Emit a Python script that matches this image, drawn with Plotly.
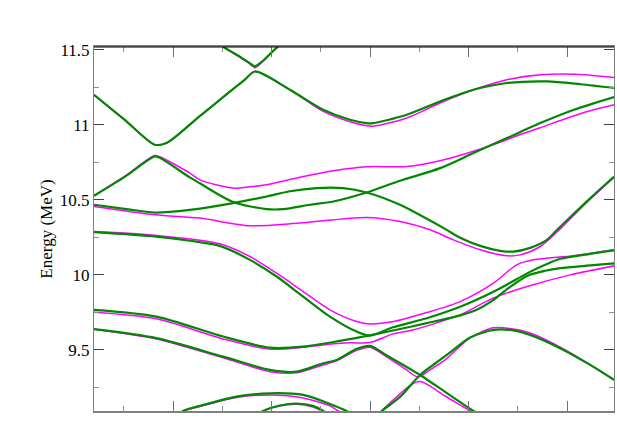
import plotly.graph_objects as go

# ---- data (x: wave-vector path coordinate, y: Energy in MeV) ----
# Band 1 (top, mostly out of view)
b1_x = [1.074, 1.305, 1.481, 1.582, 1.633, 1.704, 1.870, 2.040]
b1_green = [11.633, 11.522, 11.453, 11.41, 11.39, 11.42, 11.522, 11.60]
b1_mag = [11.633, 11.522, 11.45, 11.405, 11.38, 11.415, 11.522, 11.60]

# Band 2
b2g_x = [0, 0.312, 0.617, 0.736, 1.074, 1.379, 1.532, 1.633, 1.989, 2.327, 2.599, 2.768, 2.835,
         3.175, 3.513, 3.852, 4.191, 4.598, 4.940, 5.28]
b2g_y = [11.20, 11.033, 10.867, 10.878, 11.058, 11.22, 11.301, 11.355, 11.233, 11.10, 11.033, 11.011, 11.011,
         11.067, 11.155, 11.233, 11.278, 11.289, 11.27, 11.245]
b2m_x = [0, 0.312, 0.617, 0.736, 1.074, 1.379, 1.532, 1.633, 1.989, 2.327, 2.599, 2.768, 2.835,
         3.175, 3.513, 3.852, 4.191, 4.530, 4.889, 5.28]
b2m_y = [11.20, 11.033, 10.867, 10.878, 11.058, 11.22, 11.301, 11.355, 11.233, 11.089, 11.02, 10.993, 10.99,
         11.045, 11.145, 11.233, 11.30, 11.333, 11.337, 11.315]

# Band 3
b3g_x = [0, 0.312, 0.617, 0.668, 0.973, 1.074, 1.413, 1.752, 1.921, 2.192, 2.429, 2.768, 3.107,
         3.513, 3.852, 4.191, 4.530, 4.872, 5.28]
b3g_y = [10.527, 10.653, 10.789, 10.78, 10.649, 10.61, 10.485, 10.438, 10.438, 10.467, 10.489, 10.549, 10.627,
         10.711, 10.811, 10.911, 11.011, 11.10, 11.185]
b3m_x = [0, 0.312, 0.617, 0.668, 0.973, 1.074, 1.413, 1.582, 1.752, 2.090, 2.429, 2.768, 3.175,
         3.513, 3.852, 4.191, 4.296, 4.530, 4.807, 5.038, 5.28]
b3m_y = [10.527, 10.657, 10.795, 10.787, 10.678, 10.633, 10.578, 10.587, 10.60, 10.65, 10.693, 10.72, 10.722,
         10.76, 10.823, 10.90, 10.927, 10.98, 11.045, 11.093, 11.133]

# Band 4
b4g_x = [0, 0.312, 0.617, 0.973, 1.413, 1.752, 1.989, 2.260, 2.530, 2.768, 3.107, 3.341, 3.581,
         3.717, 3.920, 4.123, 4.258, 4.428, 4.598, 4.702, 4.987, 5.28]
b4g_y = [10.467, 10.44, 10.415, 10.433, 10.478, 10.522, 10.557, 10.578, 10.578, 10.549, 10.467, 10.387, 10.30,
         10.247, 10.193, 10.16, 10.155, 10.18, 10.233, 10.30, 10.48, 10.655]
b4m_x = [0, 0.617, 1.074, 1.582, 2.090, 2.768, 3.107, 3.412, 3.648, 3.920, 4.191, 4.326, 4.530,
         4.702, 4.987, 5.28]
b4m_y = [10.455, 10.40, 10.378, 10.327, 10.345, 10.382, 10.355, 10.30, 10.233, 10.167, 10.127, 10.133, 10.189,
         10.287, 10.473, 10.65]

# Band 5
b5g_x = [0, 0.634, 0.973, 1.277, 1.582, 1.854, 2.124, 2.395, 2.667, 2.802, 3.036, 3.378, 3.717,
         4.055, 4.225, 4.397, 4.580, 4.735, 5.038, 5.28]
b5g_y = [10.285, 10.255, 10.227, 10.193, 10.10, 9.989, 9.855, 9.722, 9.622, 9.597, 9.651, 9.711, 9.787,
         9.887, 9.947, 10.01, 10.067, 10.107, 10.14, 10.163]
b5m_x = [0, 0.634, 1.277, 1.582, 1.854, 2.124, 2.395, 2.667, 2.802, 3.040, 3.378, 3.717, 4.055,
         4.292, 4.462, 4.872, 5.28]
b5m_y = [10.289, 10.263, 10.207, 10.122, 10.011, 9.889, 9.767, 9.689, 9.673, 9.689, 9.749, 9.822, 9.945,
         10.067, 10.10, 10.127, 10.167]

# Band 6
b6g_x = [0, 0.634, 1.311, 1.786, 2.124, 2.497, 2.802, 3.036, 3.378, 3.717, 3.886, 4.055, 4.225,
         4.397, 4.580, 4.735, 5.038, 5.28]
b6g_y = [9.767, 9.722, 9.589, 9.515, 9.522, 9.56, 9.597, 9.629, 9.678, 9.73, 9.767, 9.833, 9.92,
         9.993, 10.027, 10.045, 10.063, 10.077]
b6m_x = [0, 0.634, 1.311, 1.786, 2.124, 2.327, 2.599, 2.802, 3.036, 3.239, 3.513, 3.717, 4.052,
         4.397, 4.834, 5.28]
b6m_y = [9.751, 9.707, 9.573, 9.505, 9.517, 9.533, 9.547, 9.549, 9.607, 9.633, 9.687, 9.733, 9.845,
         9.922, 10.00, 10.06]

# Band 7
b7g_x = [0, 0.634, 1.311, 1.786, 2.057, 2.327, 2.463, 2.667, 2.802, 2.972, 3.310, 3.564, 3.852, 4.021]
b7g_y = [9.638, 9.578, 9.455, 9.367, 9.355, 9.411, 9.433, 9.507, 9.527, 9.463, 9.333, 9.22, 9.093, 9.027]
b7m_x = [0, 0.634, 1.311, 1.786, 2.057, 2.327, 2.463, 2.667, 2.802, 2.972, 3.158, 3.290, 3.412,
         3.564, 3.818, 4.052, 4.225, 4.428, 4.766, 5.28]
b7m_y = [9.638, 9.573, 9.447, 9.355, 9.347, 9.40, 9.427, 9.497, 9.518, 9.453, 9.373, 9.32, 9.367,
         9.433, 9.58, 9.647, 9.643, 9.613, 9.507, 9.30]

# Band 8 (rising branch on the right, green) and its magenta lower branch
b8g_x = [2.871, 2.921, 3.107, 3.310, 3.513, 3.648, 3.818, 4.055, 4.225, 4.428, 4.766, 5.038, 5.28]
b8g_y = [9.06, 9.093, 9.187, 9.333, 9.433, 9.50, 9.583, 9.633, 9.633, 9.60, 9.50, 9.40, 9.30]
b8m_x = [2.871, 2.921, 3.107, 3.229, 3.310, 3.391, 3.564, 3.818, 3.920]
b8m_y = [9.053, 9.093, 9.207, 9.273, 9.289, 9.267, 9.193, 9.093, 9.047]

# Band 9 (bottom-left hump)
b9g_x = [0.820, 0.904, 1.074, 1.447, 1.786, 2.124, 2.395, 2.565, 2.649]
b9g_y = [9.033, 9.093, 9.127, 9.189, 9.211, 9.20, 9.14, 9.093, 9.06]
b9m_x = [0.820, 0.904, 1.074, 1.447, 1.786, 2.124, 2.395, 2.463, 2.565]
b9m_y = [9.033, 9.09, 9.123, 9.183, 9.20, 9.18, 9.127, 9.10, 9.06]

# Band 10 (small bottom hump)
b10_x = [1.633, 1.717, 1.887, 2.057, 2.222, 2.327, 2.417]
b10g_y = [9.053, 9.093, 9.13, 9.143, 9.127, 9.093, 9.053]
b10m_y = [9.053, 9.093, 9.127, 9.138, 9.12, 9.09, 9.05]

x_range = [0, 5.279]
y_range = [9.093, 11.518]
y_ticks = [9.5, 10, 10.5, 11, 11.5]
y_ticktext = ["9.5", "10", "10.5", "11", "11.5"]

GREEN = "#008800"
MAGENTA = "#ff00ff"
SERIF = "Liberation Serif"

magenta_sets = [(b1_x, b1_mag), (b2m_x, b2m_y), (b3m_x, b3m_y), (b4m_x, b4m_y), (b5m_x, b5m_y),
                (b6m_x, b6m_y), (b7m_x, b7m_y), (b8m_x, b8m_y), (b9m_x, b9m_y), (b10_x, b10m_y)]
green_sets = [(b1_x, b1_green), (b2g_x, b2g_y), (b3g_x, b3g_y), (b4g_x, b4g_y), (b5g_x, b5g_y),
              (b6g_x, b6g_y), (b7g_x, b7g_y), (b8g_x, b8g_y), (b9g_x, b9g_y), (b10_x, b10g_y)]

fig = go.Figure()
for xs, ys in magenta_sets:
    fig.add_trace(go.Scatter(x=xs, y=ys, mode="lines",
                             line=dict(color=MAGENTA, width=1.5, shape="spline", smoothing=0.8),
                             showlegend=False, hoverinfo="skip"))
for xs, ys in green_sets:
    fig.add_trace(go.Scatter(x=xs, y=ys, mode="lines",
                             line=dict(color=GREEN, width=2.2, shape="spline", smoothing=0.8),
                             showlegend=False, hoverinfo="skip"))

fig.update_layout(
    width=617, height=436,
    margin=dict(l=94, r=3, t=47, b=25),
    paper_bgcolor="white", plot_bgcolor="white",
    font=dict(family=SERIF, size=17, color="black"),
    showlegend=False,
    xaxis=dict(range=x_range, showgrid=False, zeroline=False, showticklabels=False,
               ticks="inside", tick0=0.803, dtick=1, ticklen=10, tickcolor="#707070", tickwidth=1,
               minor=dict(ticks="inside", tick0=0.303, dtick=1, ticklen=5, tickcolor="#909090", tickwidth=1),
               showline=True, linecolor="#808080", linewidth=1.5, mirror="ticks"),
    yaxis=dict(range=y_range, showgrid=False, zeroline=False,
               tickmode="array", tickvals=y_ticks, ticktext=y_ticktext,
               ticks="inside", ticklen=10, tickcolor="#404040", tickwidth=1,
               minor=dict(ticks="inside", dtick=0.25, tick0=9.25, ticklen=5, tickcolor="#909090", tickwidth=1),
               showline=True, linecolor="#808080", linewidth=1, mirror="ticks",
               tickfont=dict(family=SERIF, size=17),
               title=dict(text="Energy (MeV)", font=dict(family=SERIF, size=17), standoff=2)),
    shapes=[dict(type="line", xref="paper", yref="paper", x0=0, x1=1, y0=1, y1=1,
                 line=dict(color="black", width=1))],
)

fig.write_html("out.html", config={"displayModeBar": False},
               post_script="document.body.style.margin='0';document.body.style.overflow='hidden';")
